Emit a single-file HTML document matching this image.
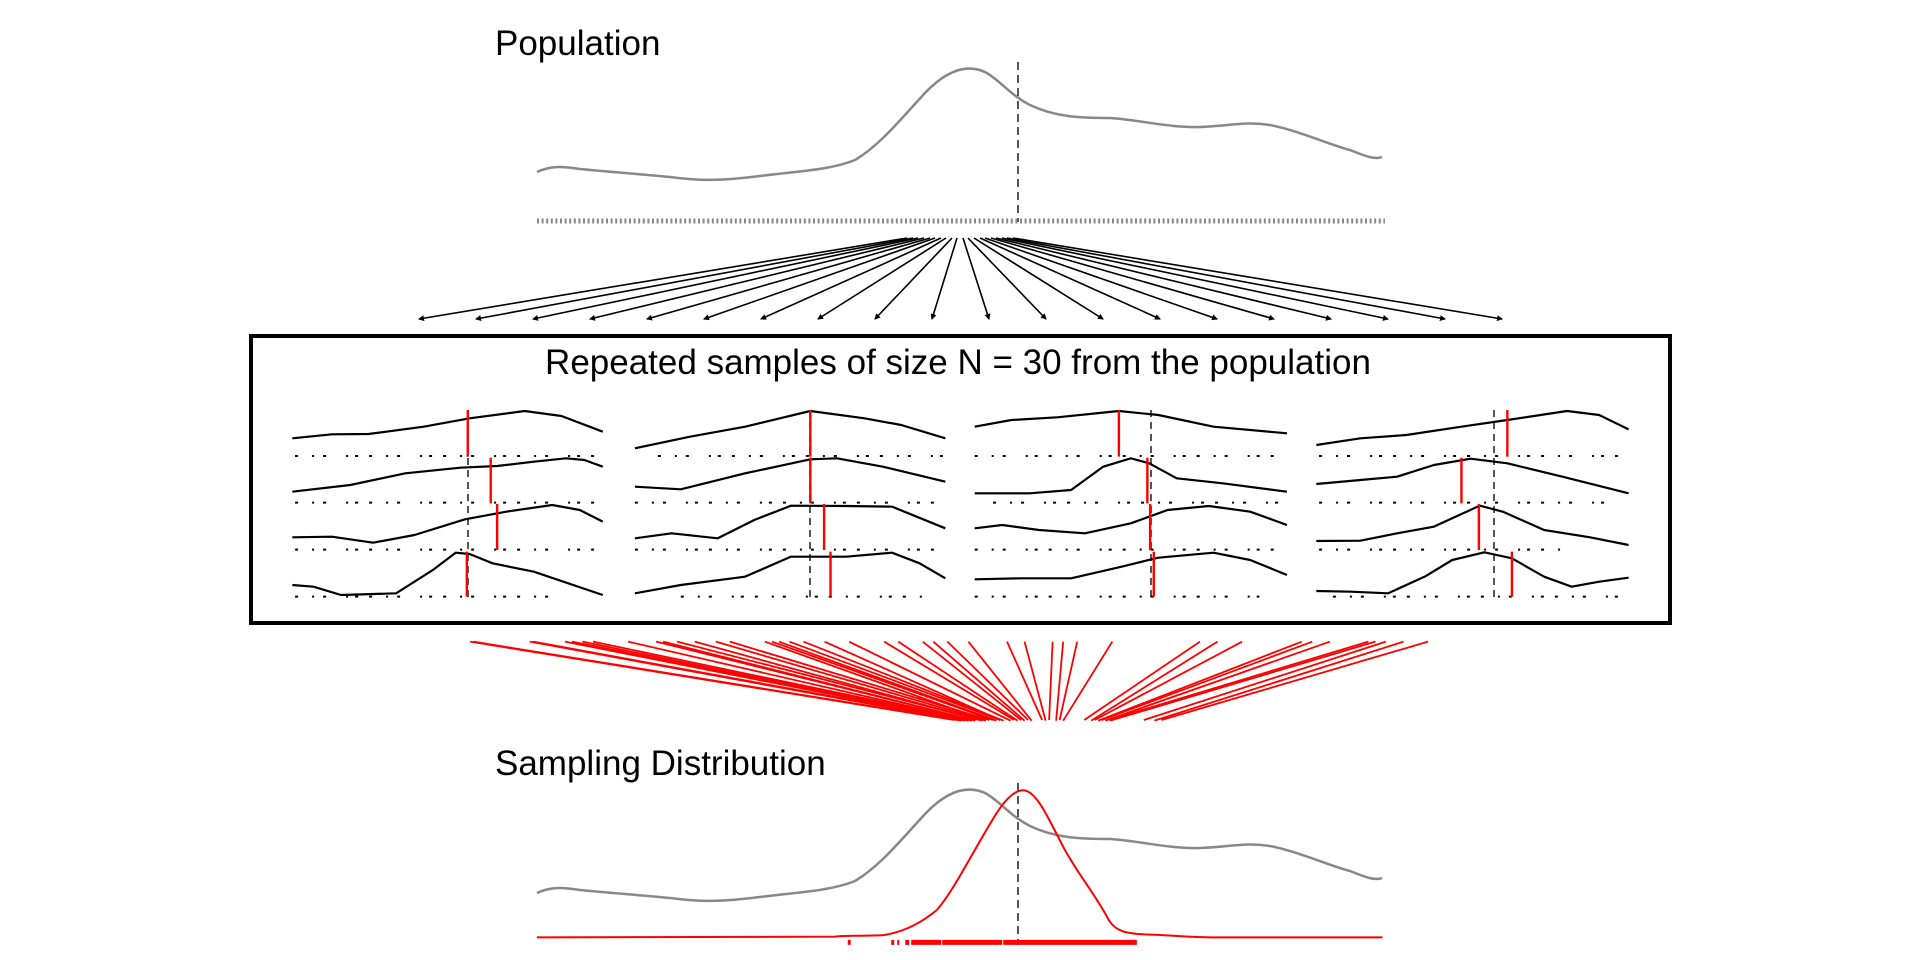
<!DOCTYPE html>
<html><head><meta charset="utf-8"><style>
html,body{margin:0;padding:0;background:#fff;}
svg{display:block;font-family:"Liberation Sans",sans-serif;}
</style></head><body>
<svg width="1920" height="960" viewBox="0 0 1920 960" xmlns="http://www.w3.org/2000/svg">
<defs>
<marker id="ah" markerWidth="6" markerHeight="6" refX="5" refY="3" orient="auto" markerUnits="userSpaceOnUse"><path d="M0,0 L6,3 L0,6 z" fill="#000"/></marker>
</defs>
<rect width="1920" height="960" fill="#fff"/>
<text x="495" y="55" font-size="35">Population</text>
<text x="495" y="775" font-size="35">Sampling Distribution</text>

<g id="pop" fill="none" stroke="#888" stroke-width="2.5">
<path d="M537,172 C550,166 560,166 580,169 C610,172 640,174 670,177 C700,181 720,181 760,176 C800,171 830,170 855,160 C880,145 900,120 925,93 C945,72 965,63 985,72 C1000,80 1010,95 1030,105 C1055,117 1080,118 1110,118 C1140,120 1170,128 1200,127 C1230,126 1245,121 1270,125 C1300,131 1330,145 1350,150 C1365,156 1375,160 1382,157"/>
</g>
<line x1="1018" y1="62" x2="1018" y2="222" stroke="#555" stroke-width="2" stroke-dasharray="8 5"/>
<line x1="537" y1="221" x2="1385" y2="221" stroke="#888" stroke-width="5" stroke-dasharray="2 2.6"/>

<g stroke="#000" stroke-width="1.6" marker-end="url(#ah)">
<line x1="907" y1="238" x2="419" y2="319"/>
<line x1="913" y1="238" x2="476" y2="319"/>
<line x1="918" y1="238" x2="533" y2="319"/>
<line x1="924" y1="238" x2="590" y2="319"/>
<line x1="930" y1="238" x2="647" y2="319"/>
<line x1="935" y1="238" x2="704" y2="319"/>
<line x1="941" y1="238" x2="761" y2="319"/>
<line x1="946" y1="238" x2="818" y2="319"/>
<line x1="952" y1="238" x2="875" y2="319"/>
<line x1="957" y1="238" x2="932" y2="319"/>
<line x1="963" y1="238" x2="989" y2="319"/>
<line x1="968" y1="238" x2="1046" y2="319"/>
<line x1="974" y1="238" x2="1103" y2="319"/>
<line x1="980" y1="238" x2="1160" y2="319"/>
<line x1="985" y1="238" x2="1217" y2="319"/>
<line x1="991" y1="238" x2="1274" y2="319"/>
<line x1="996" y1="238" x2="1331" y2="319"/>
<line x1="1002" y1="238" x2="1388" y2="319"/>
<line x1="1007" y1="238" x2="1445" y2="319"/>
<line x1="1013" y1="238" x2="1502" y2="319"/>
</g>

<rect x="251" y="336" width="1419" height="287" fill="none" stroke="#000" stroke-width="4"/>
<text x="958" y="374" font-size="35" text-anchor="middle">Repeated samples of size N = 30 from the population</text>

<g stroke="#555" stroke-width="2" stroke-dasharray="7 5">
<line x1="468" y1="410" x2="468" y2="598"/>
<line x1="810" y1="410" x2="810" y2="598"/>
<line x1="1151" y1="410" x2="1151" y2="598"/>
<line x1="1494" y1="410" x2="1494" y2="598"/>
</g>

<g transform="translate(240,330) scale(0.91837,0.33333)">
<g fill="none" stroke="#000" stroke-width="2.2" stroke-linejoin="round">
<polyline vector-effect="non-scaling-stroke" points="57,325 100,313 140,312 200,290 250,265 310,243 350,258 395,305"/>
<polyline vector-effect="non-scaling-stroke" points="57,485 120,465 180,430 240,413 280,408 320,395 355,385 375,390 395,410"/>
<polyline vector-effect="non-scaling-stroke" points="57,622 100,620 145,638 190,615 245,568 290,545 340,525 370,540 395,575"/>
<polyline vector-effect="non-scaling-stroke" points="57,765 80,770 110,795 170,790 210,720 235,668 250,672 275,700 320,725 395,795"/>
<polyline vector-effect="non-scaling-stroke" points="430,355 490,320 550,290 621,243 680,265 720,285 768,325"/>
<polyline vector-effect="non-scaling-stroke" points="430,470 480,478 550,430 621,388 650,385 700,410 768,455"/>
<polyline vector-effect="non-scaling-stroke" points="430,625 470,610 520,625 560,570 600,527 660,528 710,530 768,595"/>
<polyline vector-effect="non-scaling-stroke" points="430,790 480,765 550,740 600,680 640,680 660,680 710,668 740,700 768,745"/>
<polyline vector-effect="non-scaling-stroke" points="800,290 840,270 890,262 957,243 1000,255 1060,290 1140,310"/>
<polyline vector-effect="non-scaling-stroke" points="800,490 860,490 905,480 940,410 970,385 990,400 1020,445 1070,460 1140,485"/>
<polyline vector-effect="non-scaling-stroke" points="800,595 830,585 870,600 920,610 970,580 1010,540 1055,528 1100,545 1140,585"/>
<polyline vector-effect="non-scaling-stroke" points="800,748 850,745 905,745 960,710 1000,683 1060,668 1100,690 1140,735"/>
<polyline vector-effect="non-scaling-stroke" points="1172,345 1220,325 1270,315 1330,290 1380,270 1445,243 1480,255 1512,298"/>
<polyline vector-effect="non-scaling-stroke" points="1172,462 1220,450 1260,440 1300,405 1340,386 1380,400 1440,440 1512,490"/>
<polyline vector-effect="non-scaling-stroke" points="1172,633 1220,632 1260,610 1300,590 1350,527 1375,545 1420,600 1470,622 1512,645"/>
<polyline vector-effect="non-scaling-stroke" points="1172,783 1210,785 1250,790 1290,740 1320,690 1355,667 1385,685 1420,740 1450,770 1480,755 1512,743"/>
</g>
<g stroke="#000" stroke-width="2" stroke-dasharray="3 14 2 9 3 20 2 7 3 11">
<line vector-effect="non-scaling-stroke" x1="60" y1="378" x2="395" y2="378"/>
<line vector-effect="non-scaling-stroke" x1="60" y1="518" x2="395" y2="518"/>
<line vector-effect="non-scaling-stroke" x1="60" y1="659" x2="395" y2="659"/>
<line vector-effect="non-scaling-stroke" x1="60" y1="800" x2="350" y2="800"/>
<line vector-effect="non-scaling-stroke" x1="455" y1="378" x2="768" y2="378"/>
<line vector-effect="non-scaling-stroke" x1="430" y1="518" x2="768" y2="518"/>
<line vector-effect="non-scaling-stroke" x1="430" y1="659" x2="768" y2="659"/>
<line vector-effect="non-scaling-stroke" x1="480" y1="800" x2="748" y2="800"/>
<line vector-effect="non-scaling-stroke" x1="800" y1="378" x2="1140" y2="378"/>
<line vector-effect="non-scaling-stroke" x1="820" y1="518" x2="1140" y2="518"/>
<line vector-effect="non-scaling-stroke" x1="800" y1="659" x2="1140" y2="659"/>
<line vector-effect="non-scaling-stroke" x1="800" y1="800" x2="1110" y2="800"/>
<line vector-effect="non-scaling-stroke" x1="1175" y1="378" x2="1512" y2="378"/>
<line vector-effect="non-scaling-stroke" x1="1175" y1="518" x2="1495" y2="518"/>
<line vector-effect="non-scaling-stroke" x1="1175" y1="659" x2="1440" y2="659"/>
<line vector-effect="non-scaling-stroke" x1="1190" y1="800" x2="1512" y2="800"/>
</g>
<g stroke="#f00" stroke-width="2.4">
<line vector-effect="non-scaling-stroke" x1="248" y1="240" x2="248" y2="380"/>
<line vector-effect="non-scaling-stroke" x1="273" y1="383" x2="273" y2="520"/>
<line vector-effect="non-scaling-stroke" x1="280" y1="522" x2="280" y2="660"/>
<line vector-effect="non-scaling-stroke" x1="247" y1="665" x2="247" y2="800"/>
<line vector-effect="non-scaling-stroke" x1="621" y1="240" x2="621" y2="380"/>
<line vector-effect="non-scaling-stroke" x1="621" y1="383" x2="621" y2="520"/>
<line vector-effect="non-scaling-stroke" x1="636" y1="522" x2="636" y2="660"/>
<line vector-effect="non-scaling-stroke" x1="643" y1="665" x2="643" y2="800"/>
<line vector-effect="non-scaling-stroke" x1="957" y1="240" x2="957" y2="380"/>
<line vector-effect="non-scaling-stroke" x1="988" y1="383" x2="988" y2="520"/>
<line vector-effect="non-scaling-stroke" x1="991" y1="522" x2="991" y2="660"/>
<line vector-effect="non-scaling-stroke" x1="995" y1="665" x2="995" y2="800"/>
<line vector-effect="non-scaling-stroke" x1="1380" y1="240" x2="1380" y2="380"/>
<line vector-effect="non-scaling-stroke" x1="1330" y1="383" x2="1330" y2="520"/>
<line vector-effect="non-scaling-stroke" x1="1349" y1="522" x2="1349" y2="660"/>
<line vector-effect="non-scaling-stroke" x1="1385" y1="665" x2="1385" y2="800"/>
</g>
</g>

<g transform="translate(400,620) scale(0.70175,0.33333)" stroke="#f00" stroke-width="1.8">
<line vector-effect="non-scaling-stroke" x1="100" y1="65" x2="790" y2="300"/>
<line vector-effect="non-scaling-stroke" x1="105" y1="65" x2="800" y2="302"/>
<line vector-effect="non-scaling-stroke" x1="185" y1="65" x2="795" y2="300"/>
<line vector-effect="non-scaling-stroke" x1="190" y1="65" x2="805" y2="302"/>
<line vector-effect="non-scaling-stroke" x1="235" y1="65" x2="800" y2="300"/>
<line vector-effect="non-scaling-stroke" x1="245" y1="65" x2="810" y2="302"/>
<line vector-effect="non-scaling-stroke" x1="260" y1="65" x2="805" y2="300"/>
<line vector-effect="non-scaling-stroke" x1="275" y1="65" x2="815" y2="302"/>
<line vector-effect="non-scaling-stroke" x1="325" y1="65" x2="810" y2="300"/>
<line vector-effect="non-scaling-stroke" x1="365" y1="65" x2="820" y2="302"/>
<line vector-effect="non-scaling-stroke" x1="375" y1="65" x2="815" y2="300"/>
<line vector-effect="non-scaling-stroke" x1="395" y1="65" x2="830" y2="302"/>
<line vector-effect="non-scaling-stroke" x1="420" y1="65" x2="825" y2="300"/>
<line vector-effect="non-scaling-stroke" x1="450" y1="65" x2="835" y2="302"/>
<line vector-effect="non-scaling-stroke" x1="470" y1="65" x2="840" y2="300"/>
<line vector-effect="non-scaling-stroke" x1="520" y1="65" x2="835" y2="302"/>
<line vector-effect="non-scaling-stroke" x1="530" y1="65" x2="845" y2="300"/>
<line vector-effect="non-scaling-stroke" x1="540" y1="65" x2="850" y2="302"/>
<line vector-effect="non-scaling-stroke" x1="555" y1="65" x2="855" y2="300"/>
<line vector-effect="non-scaling-stroke" x1="575" y1="65" x2="860" y2="302"/>
<line vector-effect="non-scaling-stroke" x1="605" y1="65" x2="855" y2="300"/>
<line vector-effect="non-scaling-stroke" x1="640" y1="65" x2="870" y2="302"/>
<line vector-effect="non-scaling-stroke" x1="690" y1="65" x2="875" y2="300"/>
<line vector-effect="non-scaling-stroke" x1="710" y1="65" x2="880" y2="302"/>
<line vector-effect="non-scaling-stroke" x1="745" y1="65" x2="885" y2="300"/>
<line vector-effect="non-scaling-stroke" x1="760" y1="65" x2="890" y2="302"/>
<line vector-effect="non-scaling-stroke" x1="780" y1="65" x2="895" y2="300"/>
<line vector-effect="non-scaling-stroke" x1="810" y1="65" x2="900" y2="302"/>
<line vector-effect="non-scaling-stroke" x1="865" y1="65" x2="915" y2="300"/>
<line vector-effect="non-scaling-stroke" x1="890" y1="65" x2="920" y2="302"/>
<line vector-effect="non-scaling-stroke" x1="930" y1="65" x2="925" y2="300"/>
<line vector-effect="non-scaling-stroke" x1="945" y1="65" x2="935" y2="302"/>
<line vector-effect="non-scaling-stroke" x1="965" y1="65" x2="940" y2="300"/>
<line vector-effect="non-scaling-stroke" x1="1015" y1="65" x2="945" y2="302"/>
<line vector-effect="non-scaling-stroke" x1="1140" y1="65" x2="975" y2="300"/>
<line vector-effect="non-scaling-stroke" x1="1165" y1="65" x2="985" y2="302"/>
<line vector-effect="non-scaling-stroke" x1="1200" y1="65" x2="990" y2="300"/>
<line vector-effect="non-scaling-stroke" x1="1285" y1="65" x2="995" y2="302"/>
<line vector-effect="non-scaling-stroke" x1="1300" y1="65" x2="1000" y2="300"/>
<line vector-effect="non-scaling-stroke" x1="1325" y1="65" x2="1005" y2="302"/>
<line vector-effect="non-scaling-stroke" x1="1380" y1="65" x2="1010" y2="300"/>
<line vector-effect="non-scaling-stroke" x1="1390" y1="65" x2="1012" y2="302"/>
<line vector-effect="non-scaling-stroke" x1="1405" y1="65" x2="1060" y2="300"/>
<line vector-effect="non-scaling-stroke" x1="1430" y1="65" x2="1075" y2="302"/>
<line vector-effect="non-scaling-stroke" x1="1465" y1="65" x2="1085" y2="300"/>
</g>

<use href="#pop" transform="translate(0,721)"/>
<line x1="1018" y1="783" x2="1018" y2="945" stroke="#555" stroke-width="2" stroke-dasharray="8 5"/>
<g transform="translate(400,620) scale(0.70175,0.33333)" fill="none" stroke="#f00" stroke-width="2">
<path vector-effect="non-scaling-stroke" d="M195,952 L620,950 C640,944 660,950 690,945 C720,935 745,905 765,870 C790,810 820,680 850,580 C865,530 880,505 892,512 C910,525 925,600 945,680 C965,760 990,820 1010,900 C1020,935 1035,940 1060,943 C1100,945 1120,952 1160,952 L1400,952"/>
<line vector-effect="non-scaling-stroke" x1="700" y1="967" x2="1050" y2="967" stroke-width="5" stroke-dasharray="3 3 2 6 4 2 30 1 60 1 140 1 60 4 3 6 3 4"/>
<line vector-effect="non-scaling-stroke" x1="638" y1="967" x2="1115" y2="967" stroke-width="5" stroke-dasharray="3 442 3 12 3 12 3"/>
</g>
</svg>
</body></html>
